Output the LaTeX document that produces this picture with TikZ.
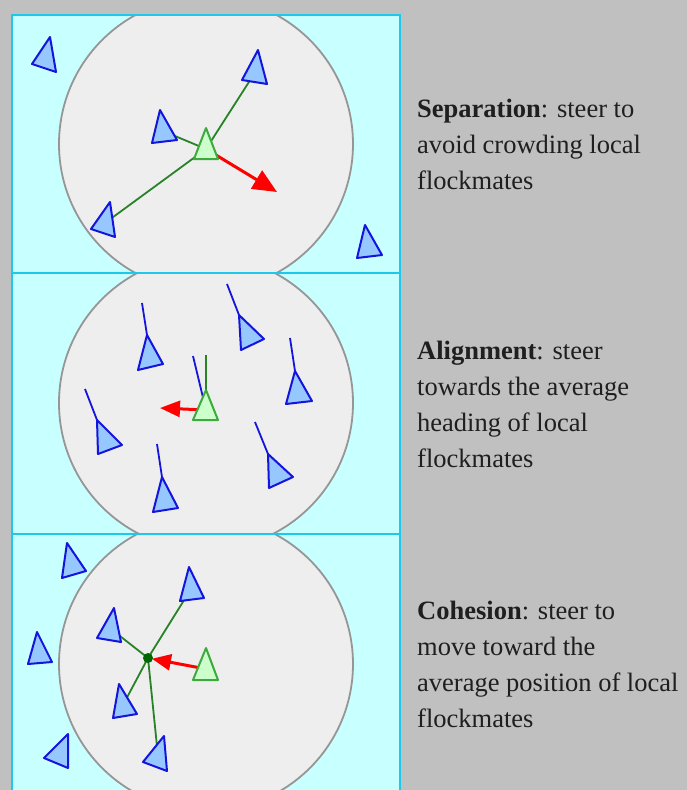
\documentclass[tikz,border=0pt]{standalone}
\usepackage{fontspec}
\setmainfont{Liberation Serif}
\usetikzlibrary{arrows.meta}

\definecolor{bggray}{RGB}{192,192,192}
\definecolor{panelcyan}{RGB}{200,255,255}
\definecolor{panelline}{RGB}{30,200,235}
\definecolor{zonefill}{RGB}{238,238,238}
\definecolor{zoneline}{RGB}{150,150,150}
\definecolor{boidblue}{RGB}{20,20,220}
\definecolor{boidfill}{RGB}{150,200,255}
\definecolor{selfgreen}{RGB}{60,170,60}
\definecolor{selffill}{RGB}{205,255,205}
\definecolor{linkgreen}{RGB}{40,130,40}

\begin{document}
\begin{tikzpicture}[x=1pt, y=-1pt,
    panel/.style={draw=panelline, line width=2pt},
    zone/.style={draw=zoneline, line width=1.8pt, fill=zonefill},
    boid/.style={draw=boidblue, line width=2pt, fill=boidfill, line join=round},
    selfboid/.style={draw=selfgreen, line width=2pt, fill=selffill, line join=round},
    link/.style={draw=linkgreen, line width=1.8pt},
    tail/.style={draw=boidblue, line width=1.8pt},
    steer/.style={draw=red, line width=3pt, -{Triangle[length=22pt,width=19pt]}},
    caption/.style={anchor=west, align=left, inner sep=0pt, text=black!88,
                    font=\fontsize{26.5}{36}\selectfont}
]
    \useasboundingbox (0,0) rectangle (687,790);
    \fill[bggray] (0,0) rectangle (687,790);

    % --- panel backgrounds and neighbourhood circles ---
    \foreach \top/\bot/\cy in {15/273/144, 273/534/403, 534/795/664} {
        \fill[panelcyan] (12,\top) rectangle (400,\bot);
        \begin{scope}
            \clip (12,\top) rectangle (400,\bot);
            \draw[zone] (206,\cy) circle (147);
        \end{scope}
    }

    % --- Separation ---
    \coordinate (sep) at (206,149);
    \coordinate (sepA) at (256,71);
    \coordinate (sepB) at (163,131);
    \coordinate (sepC) at (105,223);
    \coordinate (sepaway) at (277,192);
    \draw[link] (sep) -- (sepA);
    \draw[link] (sep) -- (sepB);
    \draw[link] (sep) -- (sepC);
    \draw[steer, -{Triangle[length=24pt,width=21pt]}] (sep) -- (sepaway);
    \draw[boid] (258,50) -- (242,80) -- (267,84) -- cycle;
    \draw[boid] (160,110) -- (152,143) -- (177,140) -- cycle;
    \draw[boid] (110,202) -- (91,229) -- (115,237) -- cycle;
    \draw[boid] (50,37) -- (32,64) -- (56,72) -- cycle;
    \draw[boid] (365,225) -- (357,258) -- (382,255) -- cycle;
    \draw[selfboid] (206,128) -- (194,159) -- (218,159) -- cycle;

    % --- Alignment ---
    \coordinate (ali) at (206,410);
    \coordinate (alihead) at (206,355);
    \coordinate (aliavg) at (193,356);
    \coordinate (aliturn) at (160,408);
    \foreach \tx/\ty/\ax/\ay/\bx/\by/\cx/\cy in {
        142/303/147/335/138/370/163/364,
        227/284/239/315/241/350/264/339,
        290/338/295/371/286/404/312/401,
        85/389/97/420/98/454/122/445,
        157/444/162/477/153/512/178/508,
        255/422/268/454/269/488/293/477} {
        \draw[tail] (\tx,\ty) -- (\ax,\ay);
        \draw[boid] (\ax,\ay) -- (\bx,\by) -- (\cx,\cy) -- cycle;
    }
    \draw[tail] (aliavg) -- (ali);
    \draw[link] (alihead) -- (ali);
    \draw[steer, -{Triangle[length=20pt,width=16pt]}] (ali) -- (aliturn);
    \draw[selfboid] (206,390) -- (193,420) -- (218,420) -- cycle;

    % --- Cohesion ---
    \coordinate (coh) at (206,669);
    \coordinate (cohA) at (191,589);
    \coordinate (cohB) at (111,629);
    \coordinate (cohC) at (123,705);
    \coordinate (cohD) at (158,756);
    \coordinate (center) at (148,658);
    \foreach \n in {cohA, cohB, cohC, cohD}
        \draw[link] (center) -- (\n);
    \draw[steer, -{Triangle[length=19pt,width=16pt]}, shorten >=4pt] (coh) -- (center);
    \fill[green!40!black] (center) circle (5);
    \draw[boid] (189,567) -- (180,601) -- (204,598) -- cycle;
    \draw[boid] (114,608) -- (97,638) -- (121,642) -- cycle;
    \draw[boid] (119,684) -- (113,718) -- (137,714) -- cycle;
    \draw[boid] (164,736) -- (143,762) -- (167,771) -- cycle;
    \draw[boid] (67,543) -- (62,578) -- (86,571) -- cycle;
    \draw[boid] (37,632) -- (28,664) -- (52,662) -- cycle;
    \draw[boid] (68,734) -- (44,758) -- (68,768) -- cycle;
    \draw[selfboid] (206,648) -- (193,680) -- (218,680) -- cycle;

    % --- panel borders ---
    \draw[panel] (12,15) rectangle (400,273);
    \draw[panel] (12,273) rectangle (400,534);
    \draw[panel] (12,534) rectangle (400,795);

    % --- captions ---
    \node[caption] (septext) at (417,144)
        {\textbf{Separation}: steer to\\avoid crowding local\\flockmates};
    \node[caption] (alitext) at (417,404)
        {\textbf{Alignment}: steer\\towards the average\\heading of local\\flockmates};
    \node[caption] (cohtext) at (417,664)
        {\textbf{Cohesion}: steer to\\move toward the\\average position of local\\flockmates};
\end{tikzpicture}
\end{document}
